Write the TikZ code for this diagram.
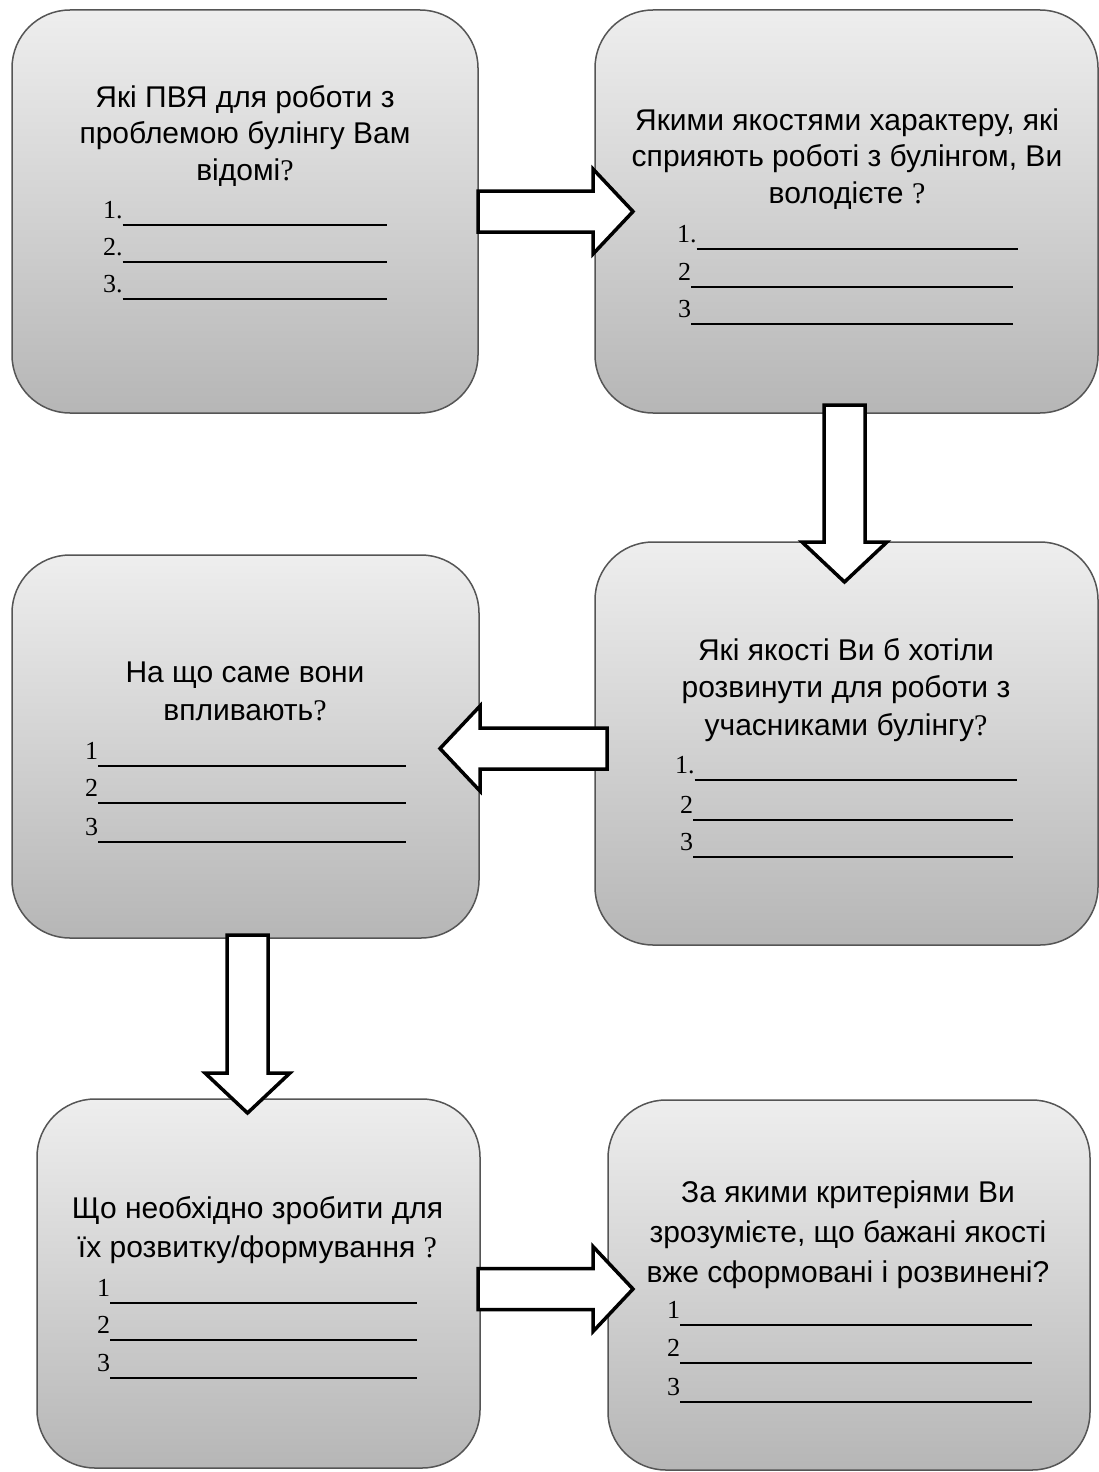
\documentclass[tikz,border=0pt]{standalone}
\usepackage{fontspec}
\setmainfont{Liberation Serif}
\setsansfont{Liberation Sans}
\usetikzlibrary{calc}

\definecolor{boxtop}{RGB}{238,238,238}
\definecolor{boxbot}{RGB}{182,182,182}
\definecolor{boxline}{RGB}{85,85,85}

\newcommand{\blankfill}{\leaders\hrule height -6pt depth 7.5pt\hfill}
\newcommand{\q}{{\rmfamily ?}}

\tikzset{
  box/.style={draw=boxline, line width=1.5pt, rounded corners=58pt,
              top color=boxtop, bottom color=boxbot, inner sep=0pt, outer sep=0pt},
  head/.style={anchor=base, inner sep=0pt, font=\sffamily\fontsize{30}{36}\selectfont},
  item/.style={anchor=base west, inner sep=0pt, font=\rmfamily\fontsize{26}{30}\selectfont},
  arrowline/.style={draw=black, fill=white, line width=3.5pt, line join=miter},
  pics/blockarr/.style={code={
    \draw[arrowline] (0,-20.5) -- (#1-40,-20.5) -- (#1-40,-42.5) -- (#1,0)
                     -- (#1-40,42.5) -- (#1-40,20.5) -- (0,20.5) -- cycle;
  }}
}

\begin{document}
\begin{tikzpicture}[x=1pt, y=-1pt]
  \fill[white] (0,0) rectangle (1099,1472);
  \useasboundingbox (0,0) rectangle (1099,1472);

  %--- boxes ---
  \node[box, minimum width=466pt, minimum height=403pt] (b1) at (245,211.5)   {};
  \node[box, minimum width=503pt, minimum height=403pt] (b2) at (846.5,211.5) {};
  \node[box, minimum width=467pt, minimum height=383pt] (b3) at (245.5,746.5) {};
  \node[box, minimum width=503pt, minimum height=403pt] (b4) at (846.5,743.5) {};
  \node[box, minimum width=443pt, minimum height=369pt] (b5) at (258.5,1283.5) {};
  \node[box, minimum width=482pt, minimum height=370pt] (b6) at (849,1285)    {};

  %--- block arrows between boxes ---
  \pic             at (b1.east)                {blockarr=155};
  \pic[rotate=-90] at ($(b2.south)+(-2,-8)$)   {blockarr=177};
  \pic[rotate=180] at ($(b4.west)+(12,5)$)     {blockarr=167};
  \pic[rotate=-90] at ($(b3.south)+(2,-3)$)    {blockarr=178};
  \pic             at ($(b5.east)+(-2,5.5)$)   {blockarr=155};

  %--- box 1 ---
  \foreach \t [count=\i] in {Які ПВЯ для роботи з, проблемою булінгу Вам, відомі\q}
    \node[head] (h1-\i) at (245,{107+(\i-1)*36.5}) {\t};
  \foreach \l/\y [count=\i] in {1./218, 2./255, 3./292}
    \node[item] (n1-\i) at (103,\y) {\makebox[284pt][l]{\l\blankfill}};

  %--- box 2 ---
  \foreach \t [count=\i] in {{Якими якостями характеру, які}, {сприяють роботі з булінгом, Ви}, володієте \q}
    \node[head] (h2-\i) at (847,{130+(\i-1)*36.5}) {\t};
  \foreach \x/\l/\y/\w [count=\i] in {677/1./242/341, 678/2/280/335, 678/3/317/335}
    \node[item] (n2-\i) at (\x,\y) {\makebox[\w pt][l]{\l\blankfill}};

  %--- box 3 ---
  \foreach \t [count=\i] in {На що саме вони, впливають\q}
    \node[head] (h3-\i) at (245,{682+(\i-1)*38}) {\t};
  \foreach \l/\y [count=\i] in {1/759, 2/796, 3/835}
    \node[item] (n3-\i) at (85,\y) {\makebox[321pt][l]{\l\blankfill}};

  %--- box 4 ---
  \foreach \t [count=\i] in {Які якості Ви б хотіли, розвинути для роботи з, учасниками булінгу\q}
    \node[head] (h4-\i) at (846,{660+(\i-1)*37.5}) {\t};
  \foreach \x/\l/\y/\w [count=\i] in {675/1./773/342, 680/2/813/333, 680/3/850/333}
    \node[item] (n4-\i) at (\x,\y) {\makebox[\w pt][l]{\l\blankfill}};

  %--- box 5 ---
  \foreach \t [count=\i] in {Що необхідно зробити для, їх розвитку/формування \q}
    \node[head] (h5-\i) at (257.5,{1218+(\i-1)*39}) {\t};
  \foreach \l/\y [count=\i] in {1/1296, 2/1333, 3/1371}
    \node[item] (n5-\i) at (97,\y) {\makebox[320pt][l]{\l\blankfill}};

  %--- box 6 ---
  \foreach \t [count=\i] in {За якими критеріями Ви, {зрозумієте, що бажані якості}, вже сформовані і розвинені?}
    \node[head] (h6-\i) at (848,{1202+(\i-1)*40}) {\t};
  \foreach \l/\y [count=\i] in {1/1318, 2/1356, 3/1395}
    \node[item] (n6-\i) at (667,\y) {\makebox[365pt][l]{\l\blankfill}};
\end{tikzpicture}
\end{document}
